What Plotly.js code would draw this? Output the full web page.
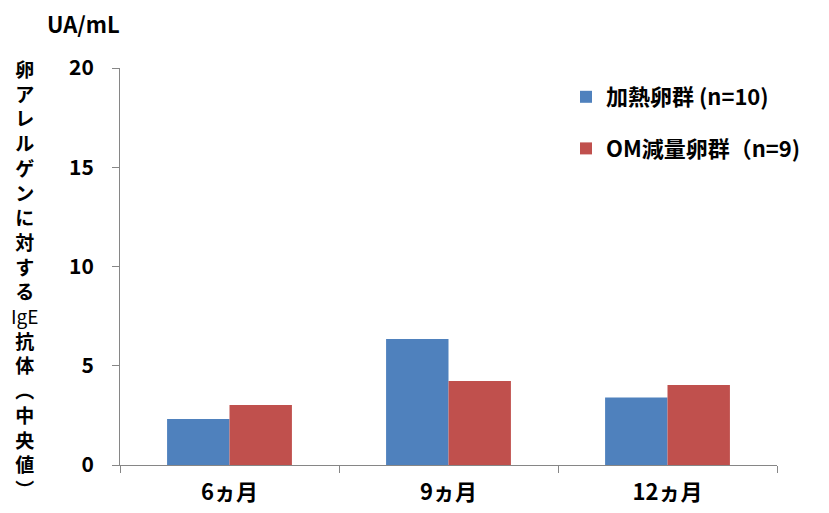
<!DOCTYPE html>
<html>
<head>
<meta charset="utf-8">
<script src="https://cdn.plot.ly/plotly-3.0.1.min.js"></script>
<style>body{margin:0;background:#fff;}#chart{width:829px;height:513px;}</style>
</head>
<body>
<div id="chart"></div>
<script>
// ---- data ----
const categories = ["6ヵ月", "9ヵ月", "12ヵ月"];
const heatedEgg = [2.32, 6.35, 3.40];
const omReducedEgg = [3.02, 4.23, 4.03];
const seriesNames = ["加熱卵群 (n=10)", "OM減量卵群（n=9)"];
const yTickValues = [0, 5, 10, 15, 20];
const yTickLabels = ["0", "5", "10", "15", "20"];
const yTitleChars = ["卵","ア","レ","ル","ゲ","ン","に","対","す","る","IgE","抗","体","︵","中","央","値","︶"];
const unitLabel = "UA/mL";

// ---- layout geometry (pixels) ----
const W = 829, H = 513;
const mL = 120, mR = 52, mT = 68, mB = 48;
const plotW = W - mL - mR, plotH = H - mT - mB;
const px2x = p => (p - mL) / plotW;
const py2y = p => (H - mB - p) / plotH;

const FONT = '"Noto Sans CJK JP", "Noto Sans", sans-serif';
const axisColor = '#868686';

const traces = [
  {type: 'bar', x: categories, y: heatedEgg, name: seriesNames[0], legendgroup: 'a',
   marker: {color: '#4F81BD'}, hoverinfo: 'none'},
  {type: 'bar', x: categories, y: omReducedEgg, name: seriesNames[1], legendgroup: 'b',
   marker: {color: '#C0504D'}, hoverinfo: 'none'}
];

const yTitleText = yTitleChars.map(ch => ch === 'IgE' ? ch : '<b>' + ch + '</b>').join('<br>');

const annotations = [
  {xref: 'paper', yref: 'paper', x: px2x(83), y: py2y(23), text: unitLabel,
   showarrow: false, xanchor: 'center', yanchor: 'middle',
   font: {family: FONT, size: 22, color: '#000', weight: 'bold'}},
  {xref: 'paper', yref: 'paper', x: px2x(24), y: py2y(278), text: yTitleText,
   showarrow: false, xanchor: 'center', yanchor: 'middle', align: 'center',
   font: {family: FONT, size: 19, color: '#000'}}
];

const layout = {
  width: W, height: H,
  margin: {l: mL, r: mR, t: mT, b: mB},
  paper_bgcolor: '#fff', plot_bgcolor: '#fff',
  barmode: 'group', bargap: 0.43, bargroupgap: 0,
  showlegend: true,
  legend: {x: px2x(566), y: py2y(76), xanchor: 'left', yanchor: 'top',
    traceorder: 'grouped', tracegroupgap: 20,
    font: {family: FONT, size: 22, color: '#000', weight: 'bold'},
    bgcolor: 'rgba(0,0,0,0)'},
  xaxis: {type: 'category', showline: true, linecolor: axisColor, linewidth: 1,
    ticks: 'outside', tickson: 'boundaries', ticklen: 7, tickcolor: axisColor,
    showgrid: false, zeroline: false, ticklabelstandoff: 8,
    tickfont: {family: FONT, size: 22, color: '#000', weight: 'bold'}},
  yaxis: {range: [0, 20], tickvals: yTickValues, ticktext: yTickLabels,
    showline: true, linecolor: axisColor, linewidth: 1,
    ticks: 'outside', ticklen: 7, tickcolor: axisColor,
    showgrid: false, zeroline: false, ticklabelstandoff: 14,
    tickfont: {family: FONT, size: 21, color: '#000', weight: 'bold'}},
  annotations: annotations
};

Plotly.newPlot('chart', traces, layout, {displayModeBar: false, staticPlot: true});
</script>
</body>
</html>
